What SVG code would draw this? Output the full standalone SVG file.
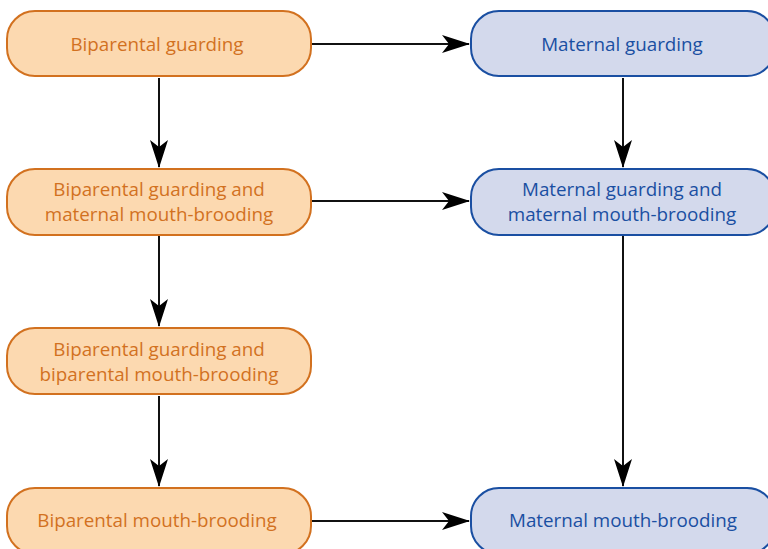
<svg xmlns="http://www.w3.org/2000/svg" width="768" height="549" viewBox="0 0 768 549">
<style>
.o rect{fill:#fcd9b0;stroke:#d2711f;stroke-width:2}
.o text{fill:#d2711f}
.b rect{fill:#d3d9ec;stroke:#1a4fa2;stroke-width:2}
.b text{fill:#1a4fa2}
text{font-family:"Open Sans","Noto Sans",sans-serif;font-size:18.8px;text-anchor:middle}
#connectors line{stroke:#111;stroke-width:2;fill:none;marker-end:url(#ah)}
</style>
<defs>
<marker id="ah" viewBox="0 0 28 18" refX="27" refY="9" markerWidth="28" markerHeight="18" markerUnits="userSpaceOnUse" orient="auto">
<path d="M0,0 L28,9 L0,18 L7,9 Z" fill="#000"/>
</marker>
</defs>
<rect width="768" height="549" fill="#fff"/>
<g id="n1" class="o"><rect x="7" y="11" width="304" height="65" rx="28"/><text x="157" y="51">Biparental guarding</text></g>
<g id="n2" class="o"><rect x="7" y="169" width="304" height="66" rx="28"/><text x="159" y="196">Biparental guarding and</text><text x="159" y="221">maternal mouth-brooding</text></g>
<g id="n3" class="o"><rect x="7" y="328" width="304" height="66" rx="28"/><text x="159" y="356">Biparental guarding and</text><text x="159" y="381">biparental mouth-brooding</text></g>
<g id="n4" class="o"><rect x="7" y="488" width="304" height="66" rx="28"/><text x="157" y="527">Biparental mouth-brooding</text></g>
<g id="n5" class="b"><rect x="471" y="11" width="304" height="65" rx="28"/><text x="622" y="51">Maternal guarding</text></g>
<g id="n6" class="b"><rect x="471" y="169" width="304" height="66" rx="28"/><text x="622" y="196">Maternal guarding and</text><text x="622" y="221">maternal mouth-brooding</text></g>
<g id="n7" class="b"><rect x="471" y="488" width="304" height="66" rx="28"/><text x="623" y="527">Maternal mouth-brooding</text></g>
<g id="connectors">
<line x1="312" y1="44" x2="469" y2="44"/>
<line x1="312" y1="201" x2="469" y2="201"/>
<line x1="312" y1="521" x2="469" y2="521"/>
<line x1="159" y1="78" x2="159" y2="167"/>
<line x1="159" y1="236" x2="159" y2="326"/>
<line x1="159" y1="396" x2="159" y2="486"/>
<line x1="623" y1="78" x2="623" y2="167"/>
<line x1="623" y1="236" x2="623" y2="486"/>
</g>
</svg>
